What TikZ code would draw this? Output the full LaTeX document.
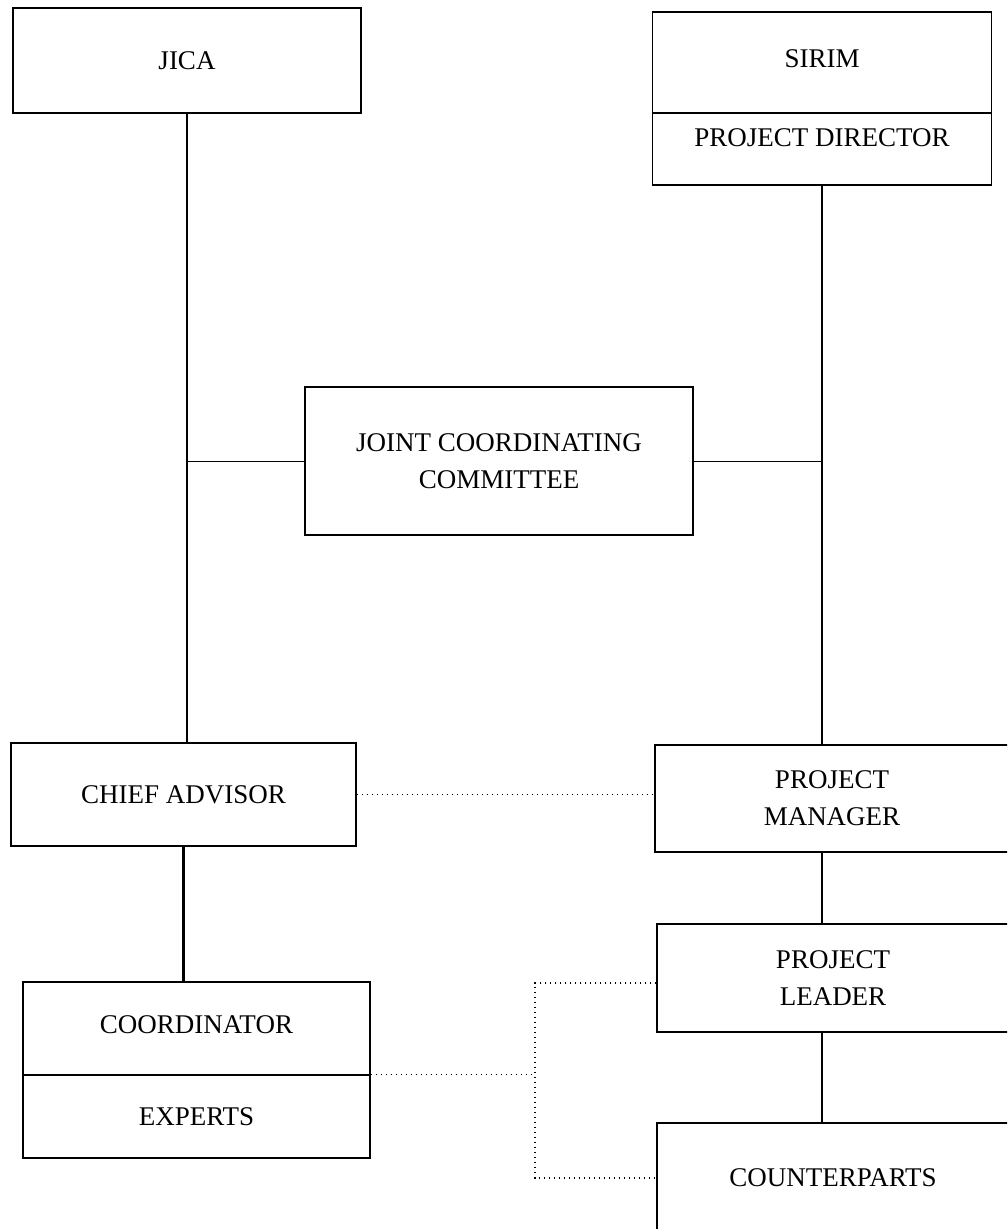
\documentclass[tikz,border=0pt]{standalone}
\usepackage{fontspec}
\setmainfont{Liberation Serif}
\begin{document}
\begin{tikzpicture}[x=1pt,y=-1pt,
  box/.style={draw, line width=1.3pt, inner sep=0pt, align=center, font=\fontsize{27}{37}\selectfont},
  conn/.style={line width=2.2pt},
  thinconn/.style={line width=1pt},
  dots/.style={line width=1.5pt, dash pattern=on 1.5pt off 3.5pt}]
\useasboundingbox (0,0) rectangle (1007,1229);
\clip (0,0) rectangle (1007,1229);
% boxes
\node[box, minimum width=348pt, minimum height=105pt] (jica) at (187,60.5) {JICA};
\node[box, minimum width=339pt, minimum height=101pt, text height=20pt, text depth=10pt] (sirim) at (822,62.5) {SIRIM};
\node[box, minimum width=339pt, minimum height=72pt, text height=20pt, text depth=25pt] (pd) at (822,149) {PROJECT DIRECTOR};
\node[box, minimum width=388pt, minimum height=148pt] (jcc) at (499,461) {JOINT COORDINATING\\COMMITTEE};
\node[box, minimum width=345pt, minimum height=103pt] (ca) at (183.5,794.5) {CHIEF ADVISOR};
\node[box, minimum width=354pt, minimum height=107pt] (pm) at (832,798.5) {PROJECT\\MANAGER};
\node[box, minimum width=352pt, minimum height=108pt] (pl) at (833,978) {PROJECT\\LEADER};
\node[box, minimum width=352pt, minimum height=110pt] (cp) at (833,1178) {COUNTERPARTS};
\node[box, minimum width=347pt, minimum height=93pt, text height=20pt, text depth=10pt] (coord) at (196.5,1028.5) {COORDINATOR};
\node[box, minimum width=347pt, minimum height=83pt] (exp) at (196.5,1116.5) {EXPERTS};
% solid connectors
\draw[conn] (jica.south) -- (jica.south |- ca.north);
\draw[conn] (ca.south) -- (ca.south |- coord.north);
\draw[conn] (pd.south) -- (pd.south |- pm.north);
\draw[conn] (pm.south -| pd.south) -- (pl.north -| pd.south);
\draw[conn] (pl.south -| pd.south) -- (cp.north -| pd.south);
\draw[thinconn] (jcc.west) -- (jcc.west -| jica.south);
\draw[thinconn] (jcc.east) -- (jcc.east -| pd.south);
% dotted connectors
\draw[dots] (ca.east) -- (ca.east -| pm.west);
\coordinate (jn) at (535,1076);
\draw[dots] (exp.north east) -- (exp.north east -| jn);
\draw[dots] ([yshift=-5pt]pl.west) -- ([yshift=-5pt]pl.west -| jn) -- (cp.west -| jn) -- (cp.west);
\end{tikzpicture}
\end{document}
